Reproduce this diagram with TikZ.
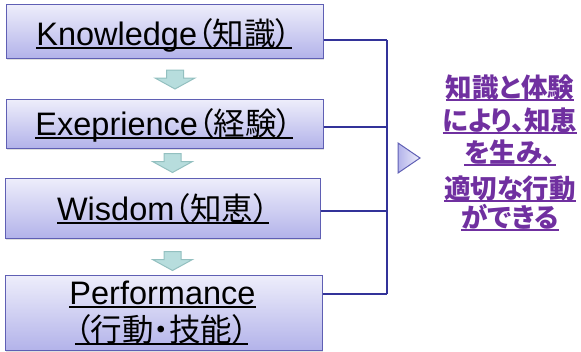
\documentclass[tikz,border=0pt]{standalone}
\usepackage{fontspec}
\setmainfont{Liberation Sans}
\newfontfamily\cjk[RawFeature=+palt]{Noto Sans CJK JP}
\usetikzlibrary{shadows}
\definecolor{boxtop}{HTML}{EEEEFB}
\definecolor{boxbot}{HTML}{B3B3EA}
\definecolor{boxline}{HTML}{5F5FB4}
\definecolor{connline}{HTML}{333399}
\definecolor{arrfill}{HTML}{B7DDDD}
\definecolor{arrline}{HTML}{93C0C0}
\definecolor{ptext}{HTML}{7030A0}
\newcommand\myul[2][black]{\setbox0=\hbox{#2}\leavevmode\rlap{\color{#1}\raisebox{-3.8pt}{\rule{\wd0}{1.8pt}}}\copy0}
\newcommand\jp[1]{{\cjk\fontsize{31.5}{36}\selectfont #1}}
\begin{document}
\begin{tikzpicture}[x=1pt,y=-1pt,
  box/.style={draw=boxline, line width=1pt, top color=boxtop, bottom color=boxbot, inner sep=0pt,
    drop shadow={shadow xshift=1.2pt, shadow yshift=-1.5pt, opacity=0.25}},
  lbl/.style={inner sep=0pt, anchor=base, font=\fontsize{32.5}{36}\selectfont},
  ptxt/.style={inner sep=0pt, anchor=base, text=ptext, font=\cjk\bfseries\fontsize{26.5}{30}\selectfont},
  conn/.style={draw=connline, line width=2.2pt},
  darr/.style={draw=arrline, fill=arrfill, line width=1pt, line join=miter},
  downarr/.pic={\path[darr] (-8.5,-9.5) -- (8.5,-9.5) -- (8.5,-1.5) -- (20,-1.5) -- (0,9.5) -- (-20,-1.5) -- (-8.5,-1.5) -- cycle;}
]
\useasboundingbox (0,0) rectangle (581,351);
% boxes
\node[box, minimum width=317pt, minimum height=54pt] (b1) at (164.5,31) {};
\node[box, minimum width=317pt, minimum height=49pt] (b2) at (164.5,123.5) {};
\node[box, minimum width=315pt, minimum height=60pt] (b3) at (162.5,208) {};
\node[box, minimum width=317pt, minimum height=75pt] (b4) at (163.5,312.5) {};
% texts
\node[lbl] (t1) at (164,45) {\myul{Knowledge\jp{（知識）}}};
\node[lbl] (t2) at (164,135) {\myul{Exeprience\jp{（経験）}}};
\node[lbl] (t3) at (163,220) {\myul{Wisdom\jp{（知恵）}}};
\node[lbl] (t4a) at (162.5,304) {\myul{Performance}};
\node[lbl] (t4b) at (161.5,341) {\myul{\jp{（行動・技能）}}};
% down arrows
\pic at (175,79.5) {downarr};
\pic at (172.5,163) {downarr};
\pic at (172.5,261) {downarr};
% connectors
\coordinate (j1) at (387,40);
\coordinate (j2) at (387,127);
\coordinate (j3) at (387,211);
\coordinate (j4) at (387,294);
\draw[conn] (j1 -| b1.east) -- (j1);
\draw[conn] (j2 -| b2.east) -- (j2);
\draw[conn] (j3 -| b3.east) -- (j3);
\draw[conn] (j4 -| b4.east) -- (j4);
\draw[conn] (j1) -- (j4);
% triangle
\path[draw=boxline, line width=1pt, left color=boxbot, right color=boxtop] (398,143) -- (420,158) -- (398,173) -- cycle;
% result text
\node[ptxt] (p1) at (510,97) {\myul[ptext]{知識と体験}};
\node[ptxt] (p2) at (510,130) {\myul[ptext]{により、知恵}};
\node[ptxt] (p3) at (510,162) {\myul[ptext]{を生み、}};
\node[ptxt] (p4) at (510,198) {\myul[ptext]{適切な行動}};
\node[ptxt] (p5) at (510,227) {\myul[ptext]{ができる}};
\end{tikzpicture}
\end{document}
